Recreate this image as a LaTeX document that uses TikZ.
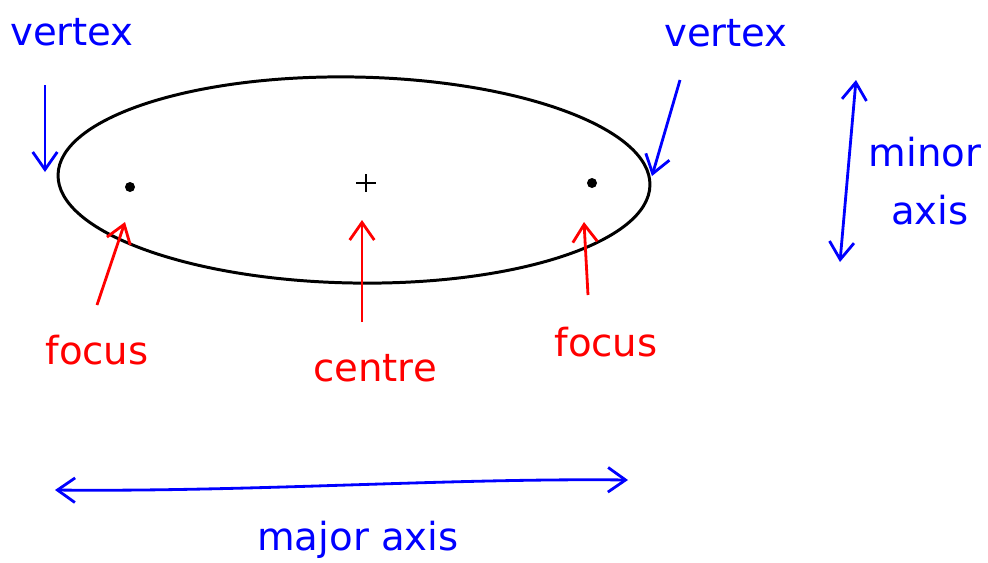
\documentclass[tikz,border=0pt]{standalone}
\usepackage{fontspec}
\setmainfont{DejaVu Sans}
\usetikzlibrary{arrows.meta}
\begin{document}
\begin{tikzpicture}[x=0.02cm,y=-0.02cm,
  lbl/.style={font=\fontsize{22}{26}\selectfont, inner sep=0pt},
  bl/.style={lbl, text=blue},
  rd/.style={lbl, text=red},
  barr/.style={draw=blue, line width=1.6pt, -{Straight Barb[length=10pt,width=14pt]}},
  rarr/.style={draw=red, line width=1.6pt, -{Straight Barb[length=10pt,width=14pt]}},
  darr/.style={draw=blue, line width=1.6pt, {Straight Barb[length=10pt,width=14pt]}-{Straight Barb[length=10pt,width=14pt]}}]
\fill[white] (0,0) rectangle (988,562);
\useasboundingbox (0,0) rectangle (988,562);
% ellipse
\draw[line width=1.7pt, rotate around={-1:(354,180)}] (354,180) ellipse [x radius=296, y radius=103];
\fill (130,187) circle [radius=5];
\fill (592,183) circle [radius=5];
\draw[line width=1.5pt] (356,183) -- (376,183) (366,174) -- (366,192);
\coordinate (lv) at (45,172);
\coordinate (rv) at (652,176);
\coordinate (lf) at (125,222);
\coordinate (cc) at (362,220);
\coordinate (rf) at (584,222);
% labels
\node[bl] (vl) at (72,32) {vertex};
\node[bl] (vr) at (726,33) {vertex};
\node[bl] (mi) at (925,152) {minor};
\node[bl] (ax) at (930,210) {axis};
\node[rd] (fl) at (97,350) {focus};
\node[rd] (ce) at (375,368) {centre};
\node[rd] (fr) at (606,342) {focus};
\node[bl] (ma) at (358,540) {major axis};
\coordinate (vls) at (45,85);
\coordinate (vrs) at (680,80);
\coordinate (mt) at (856,80);
\coordinate (mb) at (840,262);
\coordinate (al) at (55,490);
\coordinate (ar) at (628,480);
\draw[barr] (vls) -- (lv);
\draw[barr] (vrs) -- (rv);
\draw[darr] (mt) -- (mb);
\draw[darr] (al) .. controls (250,492) and (450,478) .. (ar);
\draw[rarr] (97,305) -- (lf);
\draw[rarr] (362,322) -- (cc);
\draw[rarr] (588,295) -- (rf);
\end{tikzpicture}
\end{document}
